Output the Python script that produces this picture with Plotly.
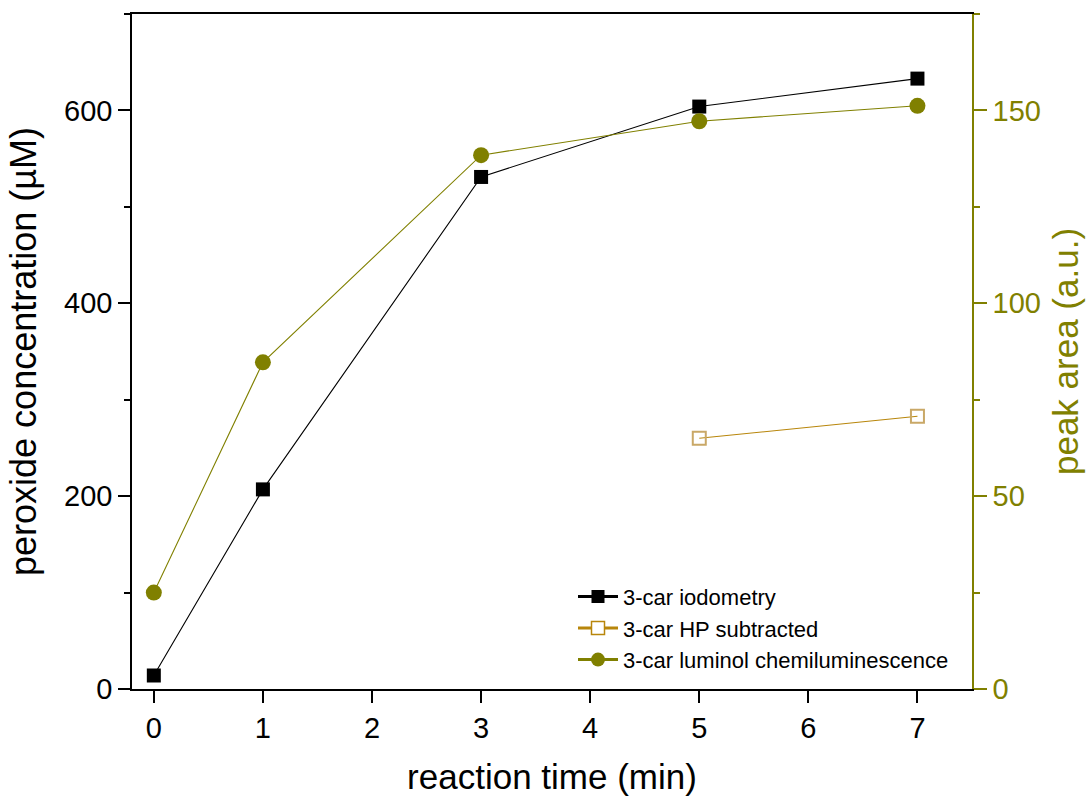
import plotly.graph_objects as go

# ---- data ----
time_min = [0, 1, 3, 5, 7]
iodometry_uM = [14, 207, 531, 604, 633]
luminol_area = [25.0, 84.7, 138.4, 147.2, 151.2]
hp_time_min = [5, 7]
hp_subtracted_area = [65.0, 70.7]

x_ticks = [0, 1, 2, 3, 4, 5, 6, 7]
left_ticks = [0, 200, 400, 600]
right_ticks = [0, 50, 100, 150]

BLACK = "#000000"
OLIVE = "#808000"
GOLD = "#B8860B"
FONT = "Liberation Sans, Arial, sans-serif"

fig = go.Figure()

# data traces
fig.add_trace(go.Scatter(
    x=time_min, y=iodometry_uM, mode="lines+markers", name="3-car iodometry",
    line=dict(color=BLACK, width=1.1),
    marker=dict(symbol="square", size=14, color=BLACK),
    yaxis="y", showlegend=False))
fig.add_trace(go.Scatter(
    x=hp_time_min, y=hp_subtracted_area, mode="lines+markers", name="3-car HP subtracted",
    line=dict(color=GOLD, width=1.1),
    marker=dict(symbol="square-open", size=13, color="#C9A867", line=dict(width=2)),
    yaxis="y2", showlegend=False))
fig.add_trace(go.Scatter(
    x=time_min, y=luminol_area, mode="lines+markers", name="3-car luminol chemiluminescence",
    line=dict(color=OLIVE, width=1.1),
    marker=dict(symbol="circle", size=16, color=OLIVE),
    yaxis="y2", showlegend=False))

# legend entries (thicker lines, as in the reference legend)
fig.add_trace(go.Scatter(
    x=[None], y=[None], mode="lines+markers", name="3-car iodometry",
    line=dict(color=BLACK, width=3),
    marker=dict(symbol="square", size=13, color=BLACK), yaxis="y"))
fig.add_trace(go.Scatter(
    x=[None], y=[None], mode="lines+markers", name="3-car HP subtracted",
    line=dict(color=GOLD, width=3),
    marker=dict(symbol="square", size=13, color="white", line=dict(color=GOLD, width=1.5)),
    yaxis="y2"))
fig.add_trace(go.Scatter(
    x=[None], y=[None], mode="lines+markers", name="3-car luminol chemiluminescence",
    line=dict(color=OLIVE, width=3),
    marker=dict(symbol="circle", size=14, color=OLIVE), yaxis="y2"))

fig.update_layout(
    width=1089, height=796,
    margin=dict(l=132, r=117, t=14, b=107),
    paper_bgcolor="white", plot_bgcolor="white",
    font=dict(family=FONT, color=BLACK, size=29),
    showlegend=True,
    legend=dict(
        x=0.525, y=0.168, xanchor="left", yanchor="top",
        bgcolor="rgba(0,0,0,0)", font=dict(size=22, family=FONT),
        tracegroupgap=0, itemwidth=40,
    ),
    xaxis=dict(
        range=[-0.2, 7.5], tickvals=x_ticks, ticktext=[str(v) for v in x_ticks],
        showgrid=False, zeroline=False, automargin=False,
        showline=True, linecolor=BLACK, linewidth=1.5, mirror=True,
        ticks="outside", ticklen=12, tickwidth=1.5, tickcolor=BLACK,
        tickfont=dict(size=29),
        title=dict(text="reaction time (min)", font=dict(size=35), standoff=22),
    ),
    yaxis=dict(
        range=[0, 700], tickvals=left_ticks, ticktext=[str(v) for v in left_ticks],
        showgrid=False, zeroline=False, automargin=False,
        showline=True, linecolor=BLACK, linewidth=1.5,
        ticks="outside", ticklen=12, tickwidth=1.5, tickcolor=BLACK,
        minor=dict(tickvals=[100, 300, 500, 700], ticks="outside", ticklen=6,
                   tickwidth=1.5, tickcolor=BLACK, showgrid=False),
        tickfont=dict(size=29),
        title=dict(text="peroxide concentration (µM)", font=dict(size=36), standoff=16),
    ),
    yaxis2=dict(
        overlaying="y", side="right",
        range=[0, 175], tickvals=right_ticks, ticktext=[str(v) for v in right_ticks],
        showgrid=False, zeroline=False, automargin=False,
        showline=True, linecolor=OLIVE, linewidth=1.5,
        ticks="outside", ticklen=13, tickwidth=1.5, tickcolor=OLIVE,
        minor=dict(tickvals=[25, 75, 125, 175], ticks="outside", ticklen=6,
                   tickwidth=1.5, tickcolor=OLIVE, showgrid=False),
        tickfont=dict(size=29, color=OLIVE),
        title=dict(text="peak area (a.u.)", font=dict(size=35, color=OLIVE), standoff=14),
    ),
)

fig.write_html("out.html")
